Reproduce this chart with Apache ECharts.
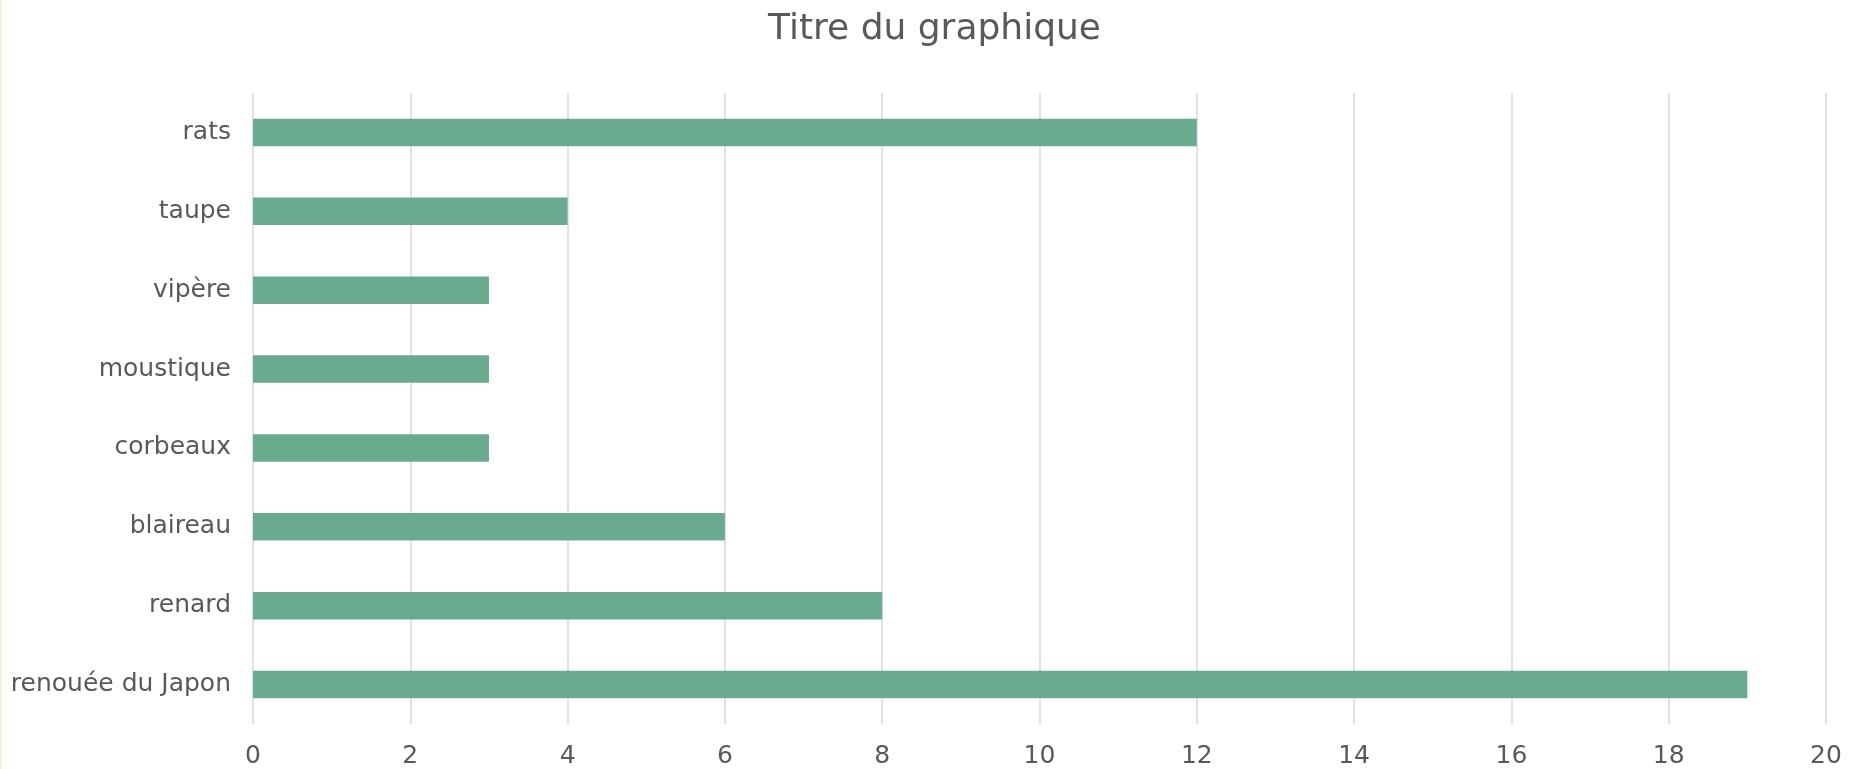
<!DOCTYPE html>
<html>
<head>
<meta charset="utf-8">
<title>Titre du graphique</title>
<script src="https://cdn.jsdelivr.net/npm/echarts@6/dist/echarts.min.js"></script>
<style>
  html, body { margin: 0; padding: 0; background: #ffffff; }
  body { border-left: 2px solid #eef2dc; box-sizing: border-box; }
  #chart { width: 1865px; height: 769px; }
</style>
</head>
<body>
<div id="chart"></div>
<script>
// Categories, top to bottom
const categories = ['rats', 'taupe', 'vipère', 'moustique', 'corbeaux', 'blaireau', 'renard', 'renouée du Japon'];
// Counts per category
const values = [12, 4, 3, 3, 3, 6, 8, 19];
// Value axis ticks
const xTicks = { min: 0, max: 20, interval: 2 };

const textColor = '#595959';
const fontFamily = '"DejaVu Sans", sans-serif';

const chart = echarts.init(document.getElementById('chart'), null, { renderer: 'canvas' });
chart.setOption({
  animation: false,
  backgroundColor: '#ffffff',
  title: {
    text: 'Titre du graphique',
    left: 'center',
    top: 7,
    textStyle: { color: textColor, fontFamily: fontFamily, fontWeight: 'normal', fontSize: 36 }
  },
  grid: { left: 251, right: 41, top: 93, bottom: 43 },
  xAxis: {
    type: 'value',
    min: xTicks.min,
    max: xTicks.max,
    interval: xTicks.interval,
    axisLine: { show: false },
    axisTick: { show: false },
    axisLabel: { color: textColor, fontFamily: fontFamily, fontSize: 25, margin: 20 },
    splitLine: { show: true, lineStyle: { color: '#d9d9d9', width: 1.5 } }
  },
  yAxis: {
    type: 'category',
    inverse: true,
    data: categories,
    axisLine: { show: false },
    axisTick: { show: false },
    axisLabel: { color: textColor, fontFamily: fontFamily, fontSize: 25, margin: 22 }
  },
  series: [{
    type: 'bar',
    data: values,
    barWidth: '35%',
    itemStyle: { color: '#6aab8f' }
  }]
});
</script>
</body>
</html>
